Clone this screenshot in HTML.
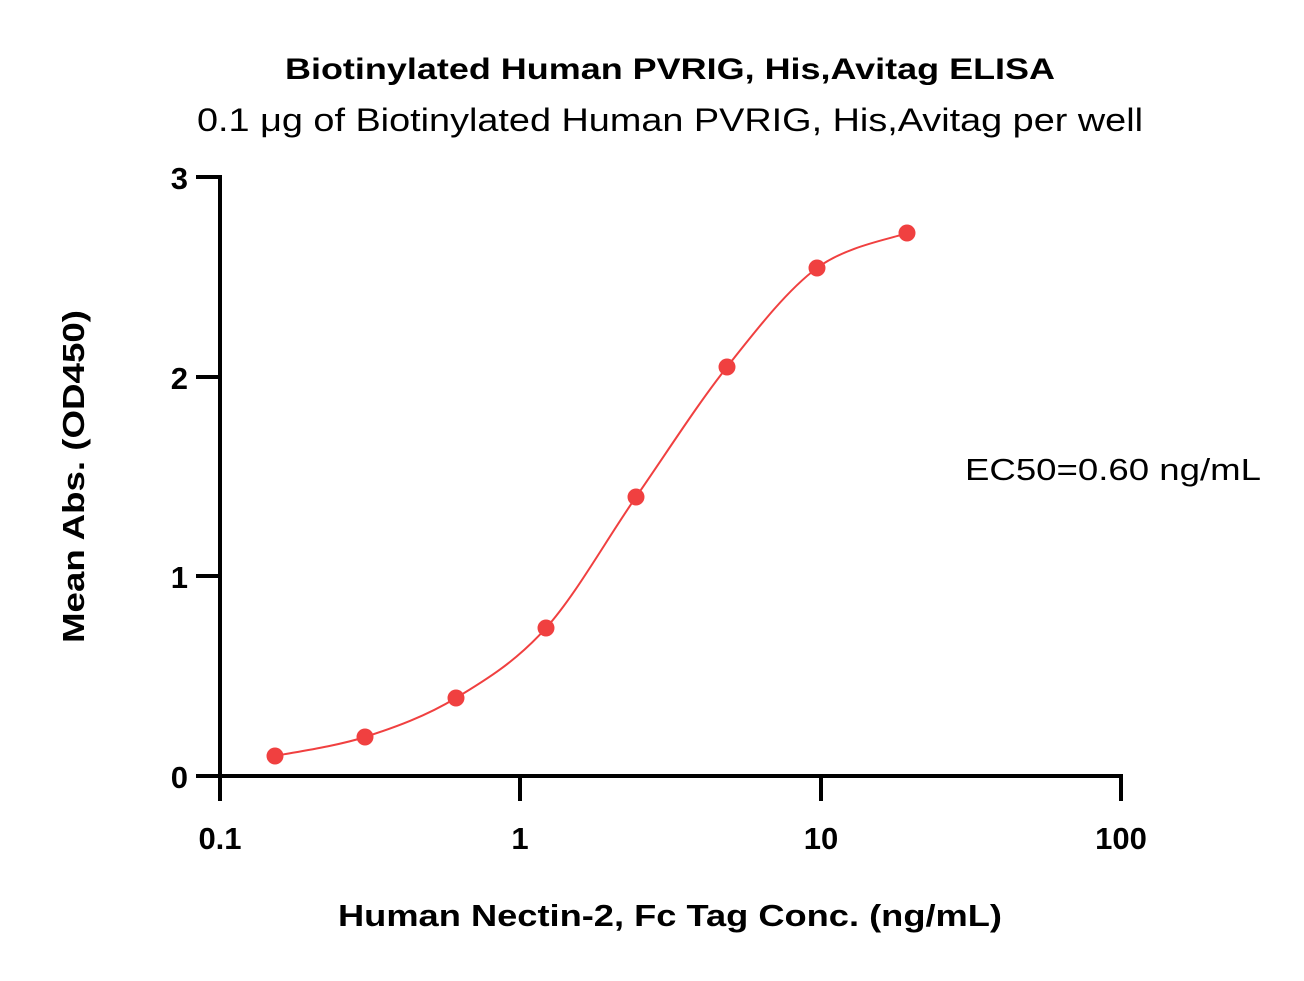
<!DOCTYPE html>
<html><head><meta charset="utf-8"><style>
html,body{margin:0;padding:0;background:#fff;}
svg{display:block;}
text{font-family:"Liberation Sans",sans-serif;fill:#000;}
</style></head><body>
<svg width="1304" height="981" viewBox="0 0 1304 981" xmlns="http://www.w3.org/2000/svg">
<text x="285" y="79" font-size="30" font-weight="bold" textLength="770" lengthAdjust="spacingAndGlyphs">Biotinylated Human PVRIG, His,Avitag ELISA</text>
<text x="197" y="131" font-size="32" textLength="946" lengthAdjust="spacingAndGlyphs">0.1 μg of Biotinylated Human PVRIG, His,Avitag per well</text>
<g stroke="#000" stroke-width="4" fill="none">
<line x1="220" y1="175" x2="220" y2="778"/>
<line x1="218" y1="776" x2="1123" y2="776"/>
<line x1="196" y1="177" x2="220" y2="177"/>
<line x1="196" y1="377" x2="220" y2="377"/>
<line x1="196" y1="576" x2="220" y2="576"/>
<line x1="196" y1="776" x2="220" y2="776"/>
<line x1="220" y1="776" x2="220" y2="801"/>
<line x1="520" y1="776" x2="520" y2="801"/>
<line x1="821" y1="776" x2="821" y2="801"/>
<line x1="1121" y1="776" x2="1121" y2="801"/>
</g>
<g font-size="31" font-weight="bold" text-anchor="end">
<text x="188" y="189">3</text>
<text x="188" y="389">2</text>
<text x="188" y="588">1</text>
<text x="188" y="788">0</text>
</g>
<g font-size="31" font-weight="bold" text-anchor="middle">
<text x="220" y="849">0.1</text>
<text x="520" y="849">1</text>
<text x="821" y="849">10</text>
<text x="1121" y="849">100</text>
</g>
<text x="338" y="926" font-size="31" font-weight="bold" textLength="664" lengthAdjust="spacingAndGlyphs">Human Nectin-2, Fc Tag Conc. (ng/mL)</text>
<text transform="translate(84,643) rotate(-90)" font-size="31" font-weight="bold" textLength="333" lengthAdjust="spacingAndGlyphs">Mean Abs. (OD450)</text>
<text x="965" y="480" font-size="31" textLength="296" lengthAdjust="spacingAndGlyphs">EC50=0.60 ng/mL</text>
<path d="M275,756 C290,752.8 334.8,746.7 365,737 C395.2,727.3 425.8,716.2 456,698 C486.2,679.8 516,661.5 546,628 C576,594.5 605.8,540.5 636,497 C666.2,453.5 696.8,405.2 727,367 C757.2,328.8 787,290.3 817,268 C847,245.7 892,238.8 907,233" stroke="#f04040" stroke-width="2" fill="none"/>
<g fill="#f04040">
<circle cx="275" cy="756" r="8.5"/>
<circle cx="365" cy="737" r="8.5"/>
<circle cx="456" cy="698" r="8.5"/>
<circle cx="546" cy="628" r="8.5"/>
<circle cx="636" cy="497" r="8.5"/>
<circle cx="727" cy="367" r="8.5"/>
<circle cx="817" cy="268" r="8.5"/>
<circle cx="907" cy="233" r="8.5"/>
</g>
</svg>
</body></html>
